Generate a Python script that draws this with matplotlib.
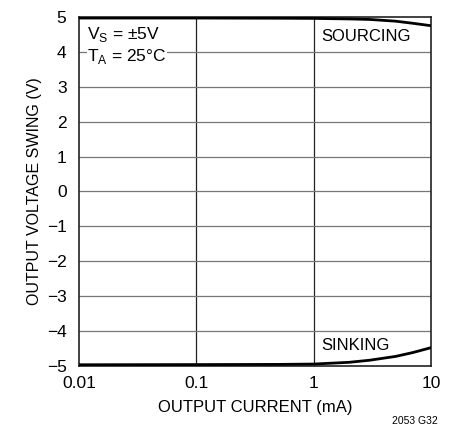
import matplotlib
matplotlib.use("Agg")
import matplotlib.pyplot as plt
from matplotlib.ticker import FixedLocator, NullLocator

plt.rcParams["font.family"] = ["Liberation Sans", "DejaVu Sans"]

# data
current_ma = [0.01, 0.1, 0.5, 1, 2, 3, 5, 7, 10]
sourcing_v = [4.97, 4.97, 4.965, 4.96, 4.945, 4.93, 4.88, 4.82, 4.75]
sinking_v = [-4.97, -4.965, -4.96, -4.95, -4.9, -4.84, -4.73, -4.62, -4.48]

x_ticks = [0.01, 0.1, 1, 10]
x_tick_labels = ["0.01", "0.1", "1", "10"]
y_ticks = list(range(-5, 6))
y_tick_labels = [str(v).replace("-", "\u2212") for v in y_ticks]

fig = plt.figure(figsize=(4.49, 4.36), dpi=100)
ax = fig.add_axes([0.176, 0.161, 0.784, 0.800])

ax.set_xscale("log")
ax.set_xlim(0.01, 10)
ax.set_ylim(-5, 5)

ax.xaxis.set_major_locator(FixedLocator(x_ticks))
ax.xaxis.set_minor_locator(NullLocator())
ax.set_xticklabels(x_tick_labels)
ax.set_yticks(y_ticks)
ax.set_yticklabels(y_tick_labels)
ax.tick_params(length=0, labelsize=12.5)
ax.tick_params(axis="y", pad=9)
ax.tick_params(axis="x", pad=7)

# grid: darker verticals, grey horizontals
for xv in x_ticks[1:-1]:
    ax.axvline(xv, color="#222222", lw=0.9, zorder=1)
for yv in y_ticks[1:-1]:
    ax.axhline(yv, color="#777777", lw=0.9, zorder=1)

for s in ax.spines.values():
    s.set_linewidth(1.2)
    s.set_color("#222222")

ax.plot(current_ma, sourcing_v, color="black", lw=2.0, zorder=3,
        solid_capstyle="butt")
ax.plot(current_ma, sinking_v, color="black", lw=2.0, zorder=3,
        solid_capstyle="butt")

ax.set_xlabel("OUTPUT CURRENT (mA)", fontsize=12, labelpad=7)
ax.set_ylabel("OUTPUT VOLTAGE SWING (V)", fontsize=11.5, labelpad=3)

box = dict(facecolor="white", edgecolor="none", pad=0.5)
ax.text(0.0118, 4.5, r"V$_\mathregular{S}$ = ±5V", fontsize=12.5,
        va="center", ha="left", zorder=2, bbox=box)
ax.text(0.0118, 3.88, r"T$_\mathregular{A}$ = 25°C", fontsize=12.5,
        va="center", ha="left", zorder=2, bbox=box)
ax.text(1.17, 4.43, "SOURCING", fontsize=12, va="center", ha="left")
ax.text(1.17, -4.43, "SINKING", fontsize=12, va="center", ha="left")

fig.text(0.975, 0.022, "2053 G32", fontsize=7.5, ha="right", va="bottom")

fig.savefig("out.png", dpi=100)
